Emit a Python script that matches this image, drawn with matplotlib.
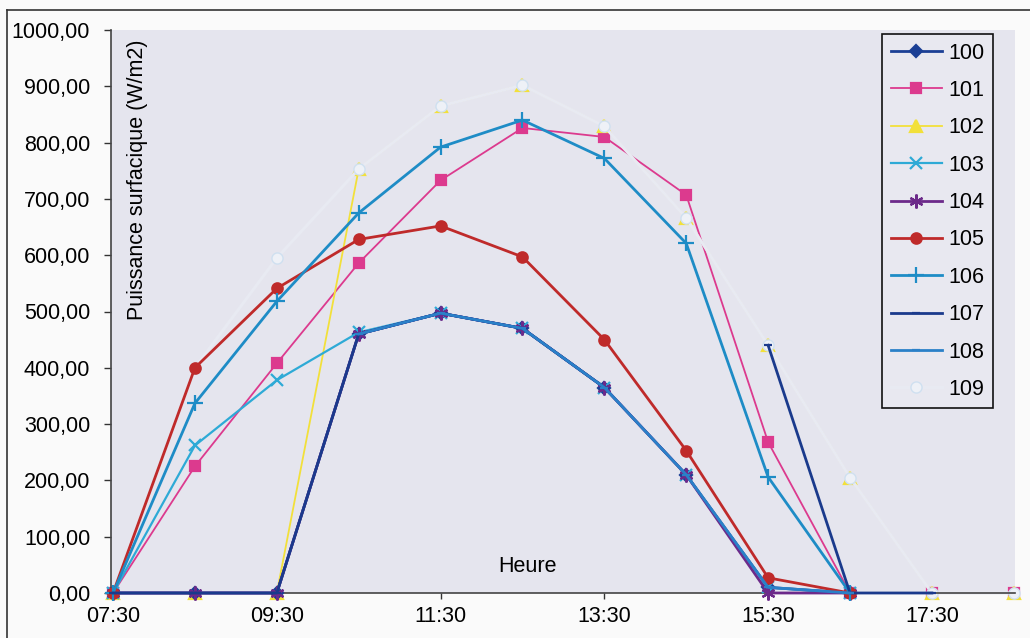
import numpy as np
import matplotlib
matplotlib.use("Agg")
import matplotlib.pyplot as plt
from matplotlib.lines import Line2D

plt.rcParams['font.family'] = ['Liberation Sans', 'DejaVu Sans']

nan = np.nan

# hourly readings, 07:30 -> 18:30
hours = ["07:30", "08:30", "09:30", "10:30", "11:30", "12:30",
         "13:30", "14:30", "15:30", "16:30", "17:30", "18:30"]

s100 = [0, 0, 0, 460, 497, 470, 365, 210, 10, 0, nan, nan]
s101 = [0, 225, 408, 586, 733, 826, 810, 707, 268, 0, 0, 0]
s102 = [0, 0, 0, 753, 865, 902, 829, 666, 440, 205, 0, 0]
s103 = [0, 262, 378, 463, 497, 470, 365, 210, 10, 0, nan, nan]
s104 = [0, 0, 0, 460, 497, 470, 365, 210, 0, 0, nan, nan]
s105 = [0, 400, 541, 628, 652, 597, 450, 253, 27, 0, nan, nan]
s106 = [0, 337, 518, 675, 792, 840, 772, 621, 206, 0, nan, nan]
s107 = [0, 0, 0, 460, 497, 470, 365, nan, 440, 0, 0, nan]
s108 = [nan, nan, nan, 460, 497, 470, 365, 210, 10, 0, nan, nan]
s109 = [0, 400, 595, 753, 865, 902, 829, 666, 440, 205, 0, 0]

names = ["100", "101", "102", "103", "104", "105", "106", "107", "108", "109"]
series = [s100, s101, s102, s103, s104, s105, s106, s107, s108, s109]

# style per series: colour, marker, marker size, line width, z-order
styles = {
    "100": dict(color="#1b3f95", marker="D", ms=6.5, lw=2.0, z=3),
    "101": dict(color="#dc3a8e", marker="s", ms=7.5, lw=1.3, z=2),
    "102": dict(color="#f2e03a", marker="^", ms=9, lw=1.3, z=2),
    "103": dict(color="#2eaad6", marker="x", ms=9, lw=1.6, z=3),
    "104": dict(color="#6c2a8a", marker=(6, 2, 0), ms=10, lw=2.0, z=3),
    "105": dict(color="#bf2a2a", marker="o", ms=7.5, lw=2.0, z=3),
    "106": dict(color="#1e8cc6", marker="+", ms=11, lw=2.0, z=3),
    "107": dict(color="#1a3a8c", marker="_", ms=6, lw=2.0, z=3),
    "108": dict(color="#2a80c8", marker="_", ms=6, lw=2.0, z=3),
    "109": dict(color="#e8eaf2", marker="o", ms=8, lw=2.2, z=2.5),
}

W, H = 1030, 638
FS = 15.5
fig = plt.figure(figsize=(W / 100, H / 100), dpi=100)
fig.patch.set_facecolor("#fafafa")

left, right, top, bottom = 111, 1015, 30, 593
ax = fig.add_axes([left / W, 1 - bottom / H, (right - left) / W, (bottom - top) / H])
ax.set_facecolor("#e5e5ee")

x = np.arange(len(hours))
for name, vals in zip(names, series):
    st = styles[name]
    mfc = st["color"]
    mec = st["color"]
    mew = 1.6
    if name == "109":
        mfc = "#eef1f7"
        mec = "#cfe0f0"
        mew = 1.0
    ax.plot(x, vals, color=st["color"], lw=st["lw"], marker=st["marker"],
            ms=st["ms"], mfc=mfc, mec=mec, mew=mew, zorder=st["z"],
            clip_on=False, label=name)

ax.set_xlim(-0.025, 11.015)
ax.set_ylim(0, 1000)

ax.set_xticks(x[::2])
ax.set_xticklabels(hours[::2])
ax.set_yticks(np.arange(0, 1001, 100))
ax.set_yticklabels([f"{v},00" for v in range(0, 1001, 100)])
ax.tick_params(axis="x", length=4, width=1, pad=5, labelsize=FS, color="#333333")
ax.tick_params(axis="y", length=5, width=1, pad=10, labelsize=FS, color="#333333")

for side in ["top", "right"]:
    ax.spines[side].set_visible(False)
for side in ["left", "bottom"]:
    ax.spines[side].set_color("#444444")
    ax.spines[side].set_linewidth(1.2)

fig.text(138 / W, 1 - 180 / H, "Puissance surfacique (W/m2)", rotation=90,
         ha="center", va="center", fontsize=FS)
fig.text(528 / W, 1 - 567 / H, "Heure", ha="center", va="center", fontsize=FS)

leg = ax.legend(loc="upper left", bbox_to_anchor=(882 / W, 1 - 34 / H),
                bbox_transform=fig.transFigure, borderaxespad=0, fontsize=FS,
                handlelength=2.4, handletextpad=0.3, labelspacing=0.76,
                borderpad=0.4, fancybox=False, framealpha=1)
leg.get_frame().set_edgecolor("#111111")
leg.get_frame().set_linewidth(1.2)
leg.get_frame().set_facecolor("#e8e8f0")

# outer chart border (scanned page frame)
fig.add_artist(Line2D([7 / W, 7 / W], [0, 1 - 10 / H], color="#333333", lw=1.2))
fig.add_artist(Line2D([7 / W, 1], [1 - 10 / H, 1 - 10 / H], color="#333333", lw=1.2))

fig.savefig("out.png", dpi=100, facecolor=fig.get_facecolor())
